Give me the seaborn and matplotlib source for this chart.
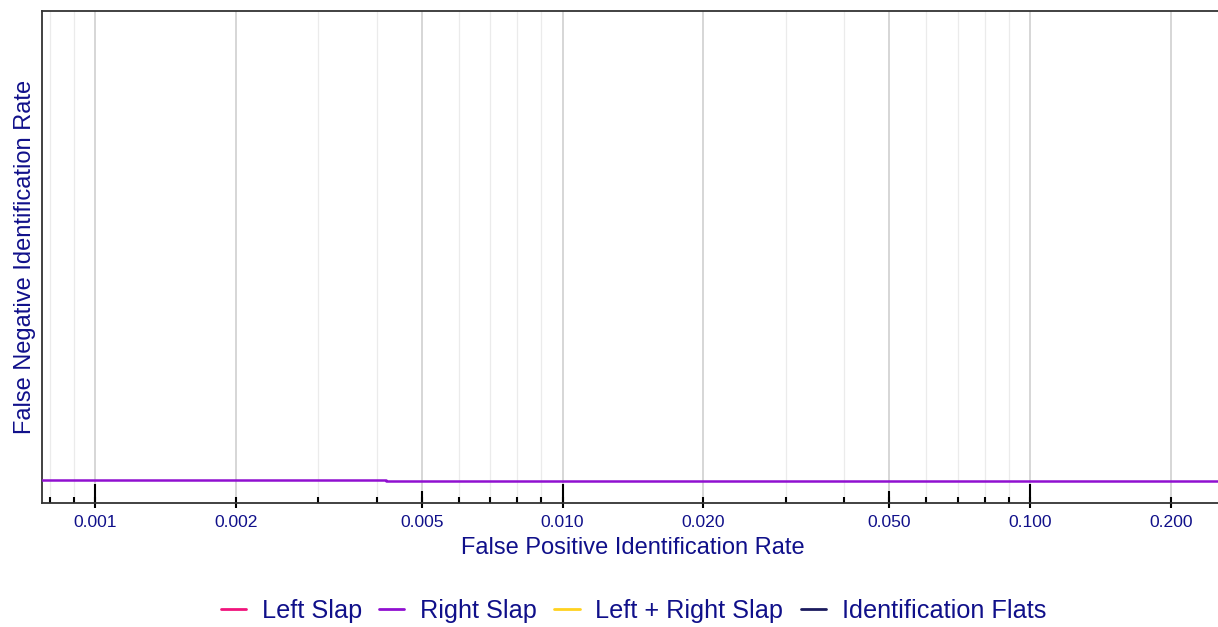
import numpy as np
import pandas as pd
import matplotlib
matplotlib.use("Agg")
import matplotlib.pyplot as plt
from matplotlib.lines import Line2D
from matplotlib.ticker import FixedLocator, FixedFormatter, NullFormatter
import seaborn as sns

# ---- data ----
series_names = ["Left Slap", "Right Slap", "Left + Right Slap", "Identification Flats"]
series_colors = ["#F0147C", "#9010D0", "#FFD21F", "#1B1B5E"]
right_fpir = [0.00077, 0.0042, 0.0042, 0.2600]
right_fnir = [0.0466, 0.0466, 0.0448, 0.0448]
major_ticks = [0.001, 0.002, 0.005, 0.010, 0.020, 0.050, 0.100, 0.200]
major_labels = ["0.001", "0.002", "0.005", "0.010", "0.020", "0.050", "0.100", "0.200"]
decade_ticks = [0.001, 0.01, 0.1]
five_ticks = [0.005, 0.05]
x_limits = (0.0007699, 0.2600)
y_limits = (0.0, 1.0)

df = pd.DataFrame({"FPIR": right_fpir, "FNIR": right_fnir, "Series": "Right Slap"})

sns.set_theme(style="white")
plt.rcParams["font.family"] = ["Liberation Sans", "DejaVu Sans"]
text_color = "#10108A"

fig = plt.figure(figsize=(12.18, 6.27), dpi=100)
ax = fig.add_axes([42 / 1218, 1 - 503 / 627, (1224 - 42) / 1218, (503 - 11) / 627])

palette = dict(zip(series_names, series_colors))
sns.lineplot(data=df, x="FPIR", y="FNIR", hue="Series", palette=palette,
             estimator=None, sort=False, linewidth=1.8, legend=False, ax=ax, zorder=3)

ax.set_xscale("log")
ax.set_xlim(*x_limits)
ax.set_ylim(*y_limits)

# minor positions: all 1..9 multiples
minor_pos = [m * 10.0 ** e for e in (-4, -3, -2, -1) for m in range(1, 10)]
minor_pos = [v for v in minor_pos if x_limits[0] <= v <= x_limits[1]]
ax.xaxis.remove_overlapping_locs = False
ax.xaxis.set_major_locator(FixedLocator(major_ticks))
ax.xaxis.set_major_formatter(FixedFormatter(major_labels))
ax.xaxis.set_minor_locator(FixedLocator(minor_pos))
ax.xaxis.set_minor_formatter(NullFormatter())

ax.tick_params(axis="x", which="major", direction="out", length=3.4, width=1.5,
               color="black", labelsize=12.6, labelcolor=text_color, pad=5, bottom=True)
ax.tick_params(axis="x", which="minor", direction="in", length=4.4, width=1.5,
               color="black", bottom=True)
ax.set_yticks([])

# grid
for v in major_ticks:
    ax.axvline(v, color="#cccccc", lw=1.1, zorder=0)
for v in minor_pos:
    if not any(abs(v - t) / t < 1e-6 for t in major_ticks):
        ax.axvline(v, color="#ebebeb", lw=0.9, zorder=0)

# longer inside ticks for decades and fives
sec1 = ax.secondary_xaxis("bottom")
sec1.set_xscale("log")
sec1.xaxis.set_major_locator(FixedLocator(decade_ticks))
sec1.xaxis.set_major_formatter(NullFormatter())
sec1.xaxis.set_minor_locator(FixedLocator([]))
sec1.tick_params(which="major", direction="in", length=13.5, width=1.5, color="black")
sec1.spines["bottom"].set_visible(False)
sec2 = ax.secondary_xaxis("bottom")
sec2.set_xscale("log")
sec2.xaxis.set_major_locator(FixedLocator(five_ticks))
sec2.xaxis.set_major_formatter(NullFormatter())
sec2.xaxis.set_minor_locator(FixedLocator([]))
sec2.tick_params(which="major", direction="in", length=9, width=1.5, color="black")
sec2.spines["bottom"].set_visible(False)

for s in ["left", "bottom", "top"]:
    ax.spines[s].set_color("#333333")
    ax.spines[s].set_linewidth(1.3)
ax.spines["right"].set_visible(False)

ax.set_xlabel("False Positive Identification Rate", fontsize=17, color=text_color, labelpad=5)
ax.set_ylabel("False Negative Identification Rate", fontsize=17, color=text_color, labelpad=4)

handles = [Line2D([0], [0], color=c, lw=2) for c in series_colors]
fig.legend(handles, series_names, loc="center", bbox_to_anchor=(0.52, 0.026), ncol=4,
           frameon=False, fontsize=18.2, handlelength=1.0, handletextpad=0.63,
           columnspacing=0.68, labelcolor=text_color)

fig.savefig("out.png", dpi=100)
